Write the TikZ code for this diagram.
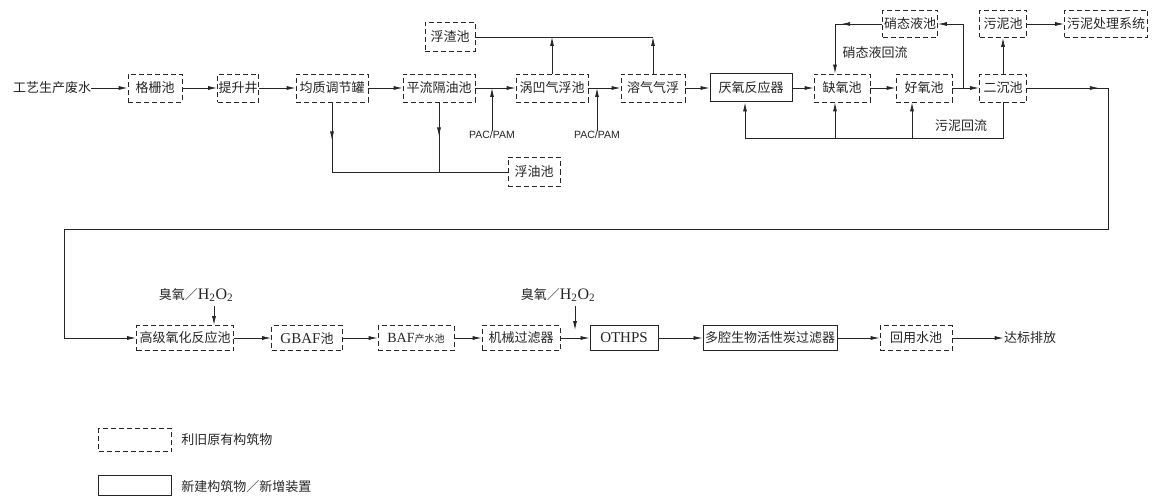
\documentclass[tikz,border=0pt]{standalone}
\usepackage{fontspec}
\setmainfont{Liberation Serif}
\newfontfamily\cjk{Noto Sans CJK SC}
\newfontfamily\lsans{Liberation Sans}
\usetikzlibrary{arrows.meta,decorations.markings,calc}
\begin{document}
\begin{tikzpicture}[x=1pt,y=-1pt, color=black!85,
  every path/.style={line width=0.8pt},
  box/.style={draw, line width=0.8pt, minimum height=28pt, inner sep=1pt, font=\cjk\fontsize{13}{13}\selectfont},
  old/.style={box, dash pattern=on 5pt off 3pt},
  new/.style={box, solid, line width=1pt},
  lowbox/.style={minimum height=25pt},
  txt/.style={font=\cjk\fontsize{13}{13}\selectfont, inner sep=0pt},
  pac/.style={font=\lsans\fontsize{10.5}{11}\selectfont, inner sep=0pt},
  tip/.style={-{Latex[length=9pt,width=4pt]}},
  midarr/.style={postaction={decorate},decoration={markings,mark=at position #1 with {\arrow{Latex[length=9pt,width=4pt]}}}}
]
\path[use as bounding box, fill=white] (0,0) rectangle (1155,497);

% ---------- top row ----------
\node[txt] (src) at (52,88) {工艺生产废水};
\node[old, minimum width=54pt] (gs) at (155,88) {格栅池};
\node[old, minimum width=41pt] (ts) at (238,88) {提升井};
\node[old, minimum width=72pt] (jz) at (332,88) {均质调节罐};
\node[old, minimum width=72pt] (gy) at (439,88) {平流隔油池};
\node[old, minimum width=72pt] (wa) at (552,88) {涡凹气浮池};
\node[old, minimum width=64pt] (rq) at (653,88) {溶气气浮};
\node[new, minimum width=82pt] (yy) at (751,88) {厌氧反应器};
\node[old, minimum width=56pt] (qy) at (842,88) {缺氧池};
\node[old, minimum width=56pt] (hy) at (924,88) {好氧池};
\node[old, minimum width=47pt] (ec) at (1003,88) {二沉池};

\node[old, minimum width=55pt, minimum height=27pt] (xt) at (910,24) {硝态液池};
\node[old, minimum width=47pt, minimum height=27pt] (wn) at (1003,24) {污泥池};
\node[old, minimum width=83pt, minimum height=27pt] (wc) at (1106,24) {污泥处理系统};

\node[old, minimum width=50pt, minimum height=29pt] (fz) at (450,37) {浮渣池};
\node[old, minimum width=52pt, minimum height=29pt] (fy) at (534,172) {浮油池};

\node[pac] (pac1) at (492,135) {PAC/PAM};
\node[pac] (pac2) at (597,135) {PAC/PAM};
\node[txt] (lxt) at (875,53) {硝态液回流};
\node[txt] (lwn) at (961,126) {污泥回流};

% main flow
\draw[tip] (src) -- (gs);
\draw[tip] (gs) -- (ts);
\draw[tip] (ts) -- (jz);
\draw[tip] (jz) -- (gy);
\draw[tip] (gy) -- (wa);
\draw[tip] (wa) -- (rq);
\draw[tip] (rq) -- (yy);
\draw[tip] (yy) -- (qy);
\draw[tip] (qy) -- (hy);
\draw[tip] (hy) -- (ec);

% scum
\coordinate (fzR) at (653,37);
\draw (fz.east) -- (fzR);
\draw[tip] (rq.north) -- (fzR);
\draw[tip] (wa.north) -- (wa.north |- fz.east);

% oil
\draw[midarr=38pt] (jz.south) |- (fy.west);
\draw[midarr=34pt] (gy.south) -- (gy.south |- fy.west);

% PAC/PAM
\draw[tip] (pac1.north) -- (pac1.north |- gy.east);
\draw[tip] (pac2.north) -- (pac2.north |- wa.east);

% nitrate return
\coordinate (n1) at (963,88);
\coordinate (n2) at (835,24);
\draw[tip] (n1) |- (xt.east);
\draw[tip, midarr=41pt] (xt.west) -- (n2) -- (n2 |- qy.north);

% sludge
\draw[tip] (ec) -- (wn);
\draw[tip] (wn) -- (wc);

% sludge return
\coordinate (s0) at (1003,138);
\coordinate (s1) at (745,138);
\coordinate (s2) at (835,138);
\coordinate (s3) at (912,138);
\draw[tip] (ec.south) -- (s0) -- (s1) -- (s1 |- yy.south);
\draw[tip] (s2) -- (s2 |- qy.south);
\draw[tip] (s3) -- (s3 |- hy.south);

% ---------- bottom row ----------
\node[old, lowbox, minimum width=97pt] (gj) at (185,338) {高级氧化反应池};
\node[old, lowbox, minimum width=71pt] (gb) at (307,338) {\fontspec{Liberation Serif}\fontsize{15}{15}\selectfont GBAF\cjk\fontsize{13}{13}\selectfont 池};
\node[old, lowbox, minimum width=76pt] (bf) at (416,338) {\fontspec{Liberation Serif}\fontsize{14}{14}\selectfont BAF\cjk\fontsize{10}{10}\selectfont 产水池};
\node[old, lowbox, minimum width=78pt] (jx) at (521,338) {机械过滤器};
\node[new, lowbox, minimum width=68pt] (ot) at (624,338) {\fontspec{Liberation Serif}\fontsize{15}{15}\selectfont OTHPS};
\node[new, lowbox, minimum width=134pt] (dq) at (770,338) {多腔生物活性炭过滤器};
\node[old, lowbox, minimum width=72pt] (hs) at (916,338) {回用水池};
\node[txt] (db) at (1030,338) {达标排放};

\node[txt] (oz1) at (196,295) {臭氧／\fontspec{Liberation Serif}\fontsize{16}{16}\selectfont H\textsubscript{2}O\textsubscript{2}};
\node[txt] (oz2) at (558,295) {臭氧／\fontspec{Liberation Serif}\fontsize{16}{16}\selectfont H\textsubscript{2}O\textsubscript{2}};

\coordinate (a1) at (214,306);
\coordinate (a2) at (575,306);
\coordinate (a2e) at (575,330);
\draw[tip] (a1) -- (a1 |- gj.north);
\draw[tip] (a2) -- (a2e);

% long return line
\coordinate (r1) at (1108,88);
\coordinate (r2) at (1108,229);
\coordinate (r3) at (64,229);
\coordinate (r4) at (64,338);
\draw[tip, midarr=72pt] (ec.east) -- (r1) -- (r2) -- (r3) -- (r4) -- (gj.west);

\draw[tip] (gj) -- (gb);
\draw[tip] (gb) -- (bf);
\draw[tip] (bf) -- (jx);
\draw[tip] (jx) -- (ot);
\draw[tip] (ot) -- (dq);
\draw[tip] (dq) -- (hs);
\draw[tip] (hs) -- (db);

% ---------- legend ----------
\node[draw, dash pattern=on 5pt off 3pt, minimum width=73pt, minimum height=23pt, inner sep=0pt] (lg1) at (135,440) {};
\node[draw, solid, line width=1pt, minimum width=73pt, minimum height=20pt, inner sep=0pt] (lg2) at (135,485) {};
\node[txt, anchor=west] (lt1) at (181,440) {利旧原有构筑物};
\node[txt, anchor=west] (lt2) at (181,487) {新建构筑物／新增装置};
\end{tikzpicture}
\end{document}
